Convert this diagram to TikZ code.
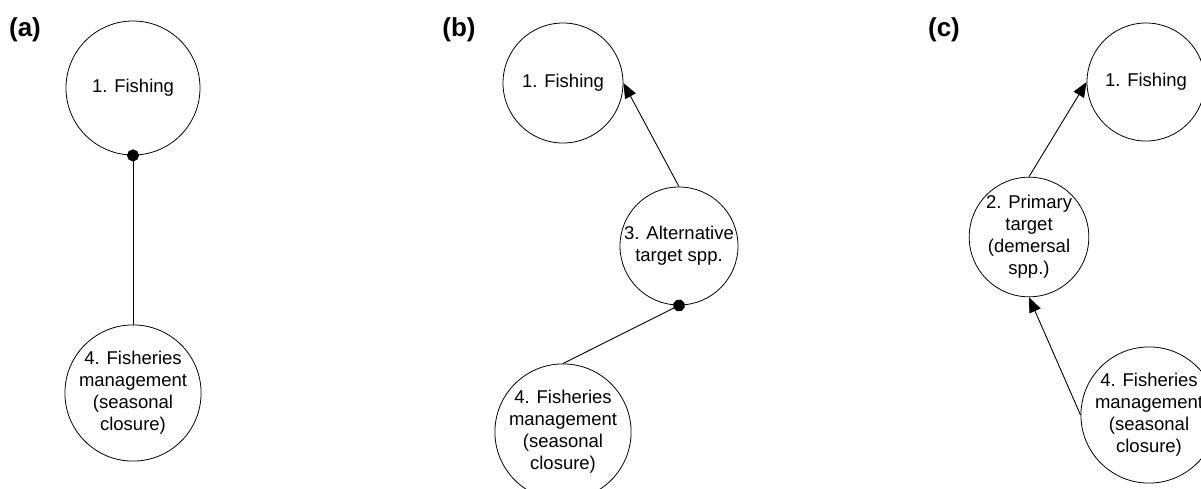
\documentclass[tikz,border=0pt]{standalone}
\usepackage{fontspec}
\setmainfont{Liberation Sans}
\usetikzlibrary{arrows.meta}
\begin{document}
\begin{tikzpicture}[x=1pt,y=-1pt,
  state/.style={circle,draw=black,line width=0.8pt,inner sep=0pt,align=center,
    font=\fontsize{18.5}{22}\selectfont},
  panel/.style={font=\fontsize{26}{28}\selectfont\bfseries},
  link/.style={draw=black,line width=0.9pt},
  poslink/.style={link,-{Triangle[length=15pt,width=12pt]}},
  neglink/.style={link,-{Circle[length=12pt]},shorten >=-6pt}]
\useasboundingbox (0,0) rectangle (1201,488);
\clip (0,0) rectangle (1201,488);
% panel (a)
\node[panel] (la) at (25,30) {(a)};
\node[state,minimum size=134pt] (a1) at (133,88) {1. Fishing};
\node[state,minimum size=132pt] (a4) at (133,393) {4. Fisheries\\management\\(seasonal\\closure)};
\draw[neglink] (a4.north) -- (a1.south);
% panel (b)
\node[panel] (lb) at (459,30) {(b)};
\node[state,minimum size=120pt] (b1) at (563,83) {1. Fishing};
\node[state,minimum size=118pt] (b3) at (679,246) {3. Alternative\\target spp.};
\node[state,minimum size=120pt] (b4) at (563,432) {4. Fisheries\\management\\(seasonal\\closure)};
\draw[poslink] (b3.north) -- (b1.east);
\draw[neglink] (b4.north) -- (b3.south);
% panel (c)
\node[panel] (lc) at (944,30) {(c)};
\node[state,minimum size=118pt] (c1) at (1146,82) {1. Fishing};
\node[state,minimum size=118pt] (c2) at (1029,237) {2. Primary\\target\\(demersal\\spp.)};
\node[state,minimum size=118pt] (c4) at (1149,415) {4. Fisheries\\management\\(seasonal\\closure)};
\draw[poslink] (c2.north) -- (c1.west);
\draw[poslink] (c4.west) -- (c2.south);
\end{tikzpicture}
\end{document}
